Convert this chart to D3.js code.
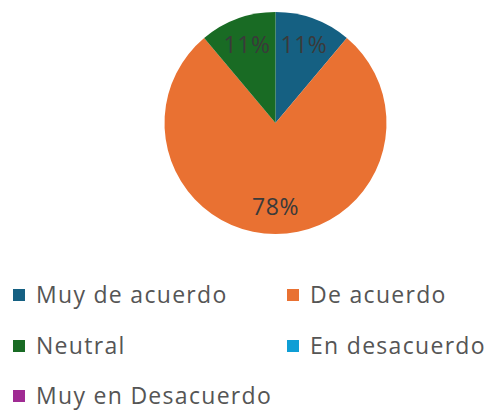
<!DOCTYPE html>
<html>
<head>
<meta charset="utf-8">
<script src="https://cdn.jsdelivr.net/npm/d3@7"></script>
<style>
  html, body { margin: 0; padding: 0; background: #fff; }
  svg { display: block; }
</style>
</head>
<body>
<svg width="491" height="410"></svg>
<script>
const width = 491;
const height = 410;

// data
var categories = ["Muy de acuerdo", "De acuerdo", "Neutral", "En desacuerdo", "Muy en Desacuerdo"];
var values = [1, 7, 1, 0, 0];
var colors = ["#156082", "#E97132", "#196B24", "#0F9ED5", "#A02B93"];

var svg = d3.select("svg");

var cx = 275.5, cy = 123, radius = 111;

var pie = d3.pie().sort(null).value(function (d) { return d; });
var arcs = pie(values);
var total = d3.sum(values);

var arc = d3.arc().innerRadius(0).outerRadius(radius);
var labelArc = d3.arc().innerRadius(radius * 0.75).outerRadius(radius * 0.75);

var g = svg.append("g").attr("transform", "translate(" + cx + "," + cy + ")");

g.selectAll("path.slice")
  .data(arcs)
  .enter().append("path")
  .attr("class", "slice")
  .attr("d", arc)
  .attr("fill", function (d, i) { return colors[i]; });

var fmt = d3.format(".0%");

g.selectAll("text.pct")
  .data(arcs.filter(function (d) { return d.value > 0; }))
  .enter().append("text")
  .attr("class", "pct")
  .attr("transform", function (d) { return "translate(" + labelArc.centroid(d) + ")"; })
  .attr("text-anchor", "middle")
  .attr("dy", "0.36em")
  .style("font-family", "'Open Sans', sans-serif")
  .style("font-size", "23px")
  .style("letter-spacing", "0.5px")
  .style("fill", "#3a3a3a")
  .text(function (d) { return fmt(d.value / total); });

// legend, two columns
var colX = [13, 287];
var rowY = [295, 346, 396];
var sq = 12;

var legend = svg.selectAll("g.legend")
  .data(categories)
  .enter().append("g")
  .attr("class", "legend")
  .attr("transform", function (d, i) {
    return "translate(" + colX[i % 2] + "," + rowY[Math.floor(i / 2)] + ")";
  });

legend.append("rect")
  .attr("x", 0)
  .attr("y", -sq / 2)
  .attr("width", sq)
  .attr("height", sq)
  .attr("fill", function (d, i) { return colors[i]; });

legend.append("text")
  .attr("x", 23)
  .attr("dy", "0.36em")
  .style("font-family", "'Open Sans', sans-serif")
  .style("font-size", "23px")
  .style("letter-spacing", "1.3px")
  .style("fill", "#555555")
  .text(function (d) { return d; });
</script>
</body>
</html>
